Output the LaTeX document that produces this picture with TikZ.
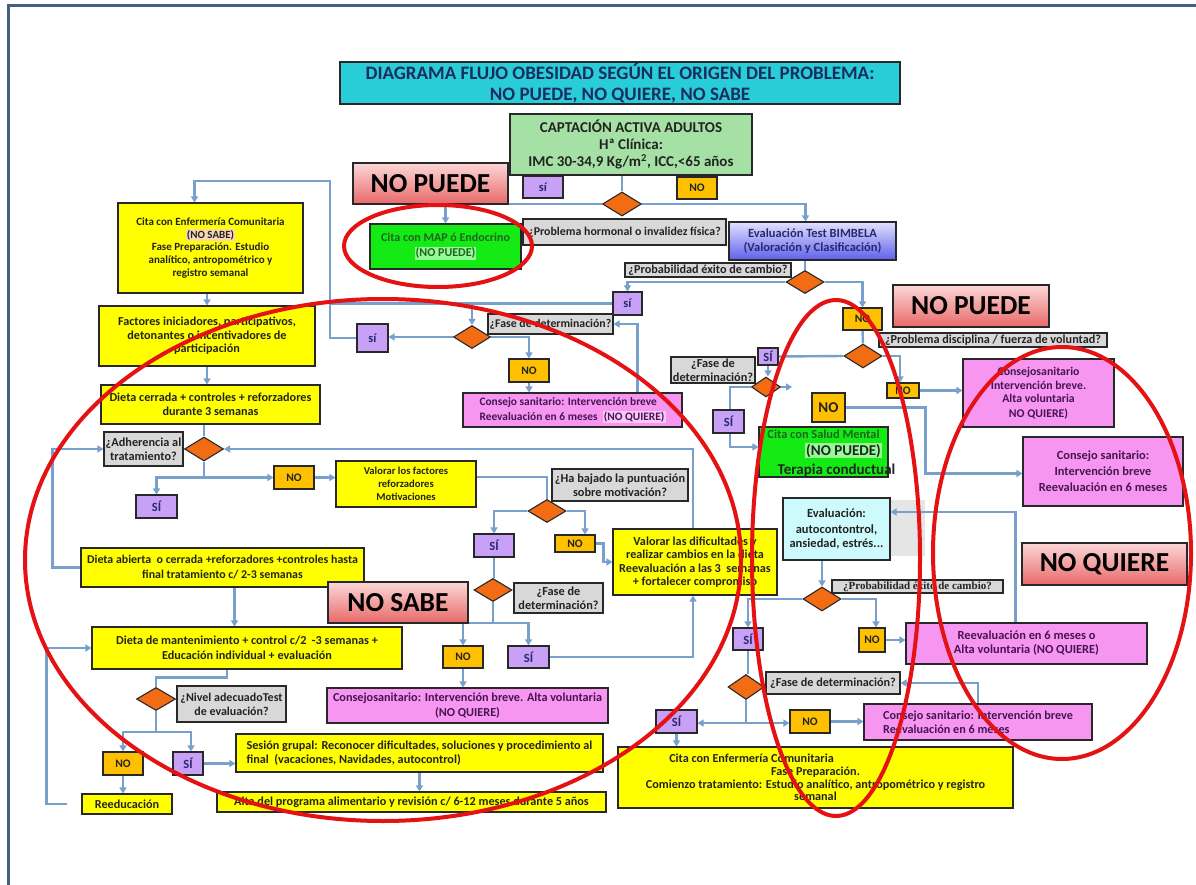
\documentclass[tikz,border=0pt]{standalone}
\usepackage{fontspec}
\setmainfont{Carlito}
\newfontfamily\serifb{Liberation Serif}
\usetikzlibrary{shapes.geometric,arrows.meta}
\definecolor{lnc}{RGB}{120,160,205}
\definecolor{bdc}{RGB}{40,40,40}
\definecolor{txt}{RGB}{35,35,35}
\definecolor{yel}{RGB}{255,255,0}
\definecolor{pnk}{RGB}{246,150,240}
\definecolor{ptxt}{RGB}{70,20,80}
\definecolor{gry}{RGB}{216,216,216}
\definecolor{lav}{RGB}{200,160,245}
\definecolor{navy}{RGB}{40,40,110}
\definecolor{org}{RGB}{255,192,0}
\definecolor{dor}{RGB}{242,108,20}
\definecolor{ttlc}{RGB}{40,205,215}
\definecolor{ttltxt}{RGB}{25,45,95}
\definecolor{capc}{RGB}{165,225,165}
\definecolor{grn}{RGB}{20,235,20}
\definecolor{gtxt}{RGB}{30,100,30}
\definecolor{evc}{RGB}{205,250,252}
\definecolor{redc}{RGB}{228,18,18}
\definecolor{frm}{RGB}{70,95,130}
\definecolor{peach}{RGB}{250,215,180}
\definecolor{lgrn}{RGB}{150,250,150}
\definecolor{lpnk}{RGB}{250,200,250}
\definecolor{bimt}{RGB}{225,225,255}
\definecolor{bimb}{RGB}{95,95,235}
\definecolor{lbt}{RGB}{252,215,215}
\definecolor{lbb}{RGB}{232,105,105}
\setlength{\fboxsep}{1pt}
\pgfdeclarelayer{bgl}
\pgfdeclarelayer{fgl}
\pgfsetlayers{bgl,main,fgl}
\newcommand{\bx}[7]{%
  \pgfmathsetmacro{\bxw}{#5-#3}\pgfmathsetmacro{\bxh}{#6-#4}%
  \pgfmathsetmacro{\bxcx}{(#3+#5)/2}\pgfmathsetmacro{\bxcy}{(#4+#6)/2}%
  \node[#2, minimum width=\bxw pt, minimum height=\bxh pt, inner sep=0pt] (#1) at (\bxcx,\bxcy) {#7};}
\newcommand{\fs}[2]{\bfseries\fontsize{#1}{#2}\selectfont}
\begin{document}
\begin{tikzpicture}[x=1pt,y=-1pt,
 ln/.style={draw=lnc, line width=2.4pt},
 arr/.style={ln, -{Triangle[length=6pt,width=7pt]}},
 bbox/.style={draw=bdc, line width=1.1pt, font=\fs{12.2}{14}, align=center, text=txt},
 ybox/.style={bbox, fill=yel},
 pbox/.style={bbox, fill=pnk, text=ptxt},
 gbox/.style={bbox, fill=gry},
 sibox/.style={bbox, fill=lav, text=navy, font=\fs{12.5}{14}},
 nobox/.style={bbox, fill=org, font=\fs{11.5}{13}},
 dia/.style={diamond, draw=bdc, line width=1.1pt, fill=dor, inner sep=0pt, minimum width=39pt, minimum height=24pt},
 lbl/.style={draw=bdc, line width=1.1pt, top color=lbt, bottom color=lbb, text=black, font=\fs{27.5}{30}},
 ttl/.style={draw=bdc, line width=1.1pt, fill=ttlc, text=ttltxt, align=center, font=\fs{19}{21}},
 capst/.style={draw=bdc, line width=1.1pt, fill=capc, text=txt, align=center, font=\fs{15}{17}},
 mapst/.style={bbox, fill=grn, text=gtxt, font=\fs{12}{15}},
 smst/.style={bbox, fill=grn},
 evst/.style={bbox, fill=evc},
 bimst/.style={bbox, top color=bimt, bottom color=bimb, text=navy, font=\fs{12.5}{14}},
 redell/.style={draw=redc, line width=4pt},
]
\useasboundingbox (0,0) rectangle (1196,885);

% ---------- boxes ----------
\bx{title}{ttl}{340}{62}{900}{104}{DIAGRAMA FLUJO OBESIDAD SEGÚN EL ORIGEN DEL PROBLEMA:\\ NO PUEDE, NO QUIERE, NO SABE}
\bx{cap}{capst}{510}{114}{752}{175}{CAPTACIÓN ACTIVA ADULTOS\\ Hª Clínica:\\ IMC 30-34,9 Kg/m\textsuperscript{2}, ICC,<65 años}
\bx{npl}{lbl}{353}{163}{508}{204}{NO PUEDE}
\bx{si1}{sibox}{523}{176}{563}{198}{sí}
\bx{no1}{nobox}{677}{177}{717}{199}{NO}
\node[dia] (d1) at (622,204) {};
\bx{map}{mapst}{370}{224}{521}{269}{Cita con MAP ó Endocrino\\ \colorbox{lgrn}{(NO PUEDE)}}
\bx{hor}{gbox,font=\fs{11.9}{13}}{523}{219}{726}{245}{¿Problema hormonal o invalidez física?}
\bx{bim}{bimst}{729}{222}{896}{260}{Evaluación Test BIMBELA\\ (Valoración y Clasificación)}
\bx{pr1}{gbox}{625}{263}{791}{277}{¿Probabilidad éxito de cambio?}
\node[dia, minimum width=38pt, minimum height=23pt] (d2) at (805,282) {};
\bx{si2}{sibox}{613}{292}{642}{315}{sí}
\bx{no2}{nobox}{843}{308}{882}{330}{NO}
\bx{npr}{lbl}{893}{285}{1049}{327}{NO PUEDE}
\bx{f3}{gbox,font=\fs{11.8}{13}}{488}{314}{613}{334}{¿Fase de determinación?}
\node[dia, minimum width=37pt, minimum height=23pt] (d3) at (472,337) {};
\bx{si3}{sibox}{357}{324}{388}{352}{sí}
\bx{no3}{nobox}{509}{359}{549}{382}{NO}
\bx{cs1}{pbox,align=left,font=\fs{11.4}{15}}{463}{393}{682}{427}{Consejo sanitario: Intervención breve\\ Reevaluación en 6 meses \ \colorbox{lpnk}{(NO QUIERE)}}

\bx{cita1}{ybox,font=\fs{11}{12.8}}{118}{203}{303}{293}{Cita con Enfermería Comunitaria\\ \colorbox{peach}{(NO SABE)}\\ Fase Preparación. Estudio\\ analítico, antropométrico y\\ registro semanal}
\bx{fact}{ybox,font=\fs{12.2}{13.5}}{99}{306}{315}{366}{Factores iniciadores, participativos,\\ detonantes o incentivadores de\\ participación}
\bx{dc}{ybox}{101}{385}{320}{424}{Dieta cerrada + controles + reforzadores\\ durante 3 semanas}
\node[dia] (d4) at (204,449) {};
\bx{adh}{gbox,font=\fs{12.3}{14}}{104}{432}{183}{466}{¿Adherencia al\\ tratamiento?}
\bx{si4}{sibox}{136}{495}{177}{518}{SÍ}
\bx{no4}{nobox}{274}{466}{314}{489}{NO}
\bx{vf}{ybox,font=\fs{10.6}{13}}{336}{461}{476}{507}{Valorar los factores\\ reforzadores\\ Motivaciones}
\node[dia, minimum width=38pt, minimum height=23pt] (d5) at (547,511) {};
\bx{hb}{gbox,font=\fs{12.3}{14}}{552}{469}{688}{501}{¿Ha bajado la puntuación\\ sobre motivación?}
\bx{si5}{sibox}{474}{534}{514}{557}{SÍ}
\bx{no5}{nobox}{555}{535}{595}{552}{NO}
\bx{vd}{ybox,font=\fs{12.2}{13.4}}{613}{529}{777}{595}{Valorar las dificultades y\\ realizar cambios en la dieta\\ Reevaluación a las 3 \ semanas\\ + fortalecer compromiso}
\bx{da}{ybox,font=\fs{11.9}{15}}{81}{548}{364}{587}{Dieta abierta \ o cerrada +reforzadores +controles hasta\\ final tratamiento c/ 2-3 semanas}
\bx{nsb}{lbl}{328}{582}{468}{623}{NO SABE}
\node[dia, minimum width=38pt, minimum height=23pt] (d6) at (493,590) {};
\bx{f6}{gbox,font=\fs{12.3}{14}}{514}{583}{603}{613}{¿Fase de\\ determinación?}
\bx{no6}{nobox}{443}{646}{483}{668}{NO}
\bx{si6}{sibox}{508}{646}{549}{668}{SÍ}
\bx{cs2}{pbox,font=\fs{12.2}{15}}{327}{688}{608}{723}{Consejosanitario: Intervención breve. Alta voluntaria\\ (NO QUIERE)}
\bx{dm}{ybox,font=\fs{12.2}{15}}{92}{627}{402}{669}{Dieta de mantenimiento + control c/2 \ -3 semanas +\\ Educación individual + evaluación}
\node[dia, minimum width=39pt, minimum height=23pt] (d7) at (156,699) {};
\bx{niv}{gbox,font=\fs{12}{14}}{177}{686}{286}{722}{¿Nivel adecuadoTest\\ de evaluación?}
\bx{no7}{nobox}{103}{752}{143}{775}{NO}
\bx{si7}{sibox}{173}{752}{203}{775}{SÍ}
\bx{re}{ybox}{82}{794}{172}{814}{Reeducación}
\bx{sg}{ybox,align=left}{236}{734}{603}{772}{Sesión grupal: Reconocer dificultades, soluciones y procedimiento al\\ final \ (vacaciones, Navidades, autocontrol)}
\bx{alta}{ybox}{217}{792}{606}{812}{Alta del programa alimentario y revisión c/ 6-12 meses durante 5 años}

\node[dia, minimum width=38pt, minimum height=24pt] (d8) at (863,356) {};
\bx{disc}{gbox,font=\fs{12.2}{13}}{879}{333}{1107}{347}{¿Problema disciplina / fuerza de voluntad?}
\bx{si8}{sibox}{758}{348}{778}{365}{SÍ}
\node[dia, minimum width=29pt, minimum height=20pt] (d9) at (766,387) {};
\bx{f9}{gbox,font=\fs{12.3}{14}}{671}{357}{755}{383}{¿Fase de\\ determinación?}
\bx{si9}{sibox}{713}{410}{744}{433}{SÍ}
\bx{no9}{nobox,font=\fs{15}{16}}{812}{393}{845}{422}{NO}
\bx{sm}{smst}{759}{427}{888}{477}{}
\node[anchor=base, font=\fs{12.4}{13}, text=gtxt, inner sep=0pt] (sm1) at (823.5,438) {Cita con Salud Mental};
\node[anchor=base, font=\fs{15}{16}, text=txt, inner sep=0pt] (sm2) at (843.5,455) {\colorbox{lgrn}{(NO PUEDE)}};
\node[anchor=base, font=\fs{15}{16}, text=txt, inner sep=0pt] (sm3) at (836.5,474) {Terapia conductual};
\bx{no8}{nobox}{887}{383}{919}{398}{NO}
\bx{csr1}{pbox,font=\fs{11.8}{13}}{963}{359}{1114}{427}{Consejosanitario\\[1.5pt] Intervención breve.\\ Alta voluntaria\\[1.5pt] NO QUIERE)}
\bx{csr2}{pbox,font=\fs{12.4}{14}}{1023}{437}{1183}{506}{Consejo sanitario:\\[2pt] Intervención breve\\[2pt] Reevaluación en 6 meses}
\bx{ev}{evst,font=\fs{12.5}{14}}{783}{498}{890}{560}{Evaluación:\\[2pt] autocontontrol,\\ ansiedad, estrés...}
\bx{nqu}{lbl}{1022}{543}{1187}{585}{NO QUIERE}
\node[dia, minimum width=38pt, minimum height=24pt] (d10) at (822,599) {};
\bx{pr2}{gbox,font=\serifb\bfseries\fontsize{11}{12}\selectfont}{832}{580}{1003}{593}{¿Probabilidad éxito de cambio?}
\bx{no10}{nobox}{859}{628}{885}{652}{NO}
\bx{ra}{pbox,font=\fs{12.4}{14}}{906}{623}{1147}{664}{Reevaluación en 6 meses o\\ Alta voluntaria (NO QUIERE)}
\bx{si10}{sibox}{733}{628}{763}{650}{SÍ}
\node[dia, minimum width=36pt, minimum height=25pt] (d11) at (746,687) {};
\bx{f11}{gbox}{766}{672}{900}{694}{¿Fase de determinación?}
\bx{si11}{sibox}{656}{710}{697}{733}{SÍ}
\bx{no11}{nobox}{790}{710}{830}{733}{NO}
\bx{csb}{pbox,align=left}{864}{704}{1092}{740}{Consejo sanitario: Intervención breve\\ Reevaluación en 6 meses}
\bx{ceb}{ybox,font=\fs{12.2}{12.8}}{618}{747}{1013}{808}{Cita con Enfermería Comunitaria\hspace*{128pt}\\ Fase Preparación.\\ Comienzo tratamiento: Estudio analítico, antropométrico y registro\\ semanal}
\coordinate (d9e) at (792,387);

% ---------- connectors ----------
\begin{pgfonlayer}{bgl}
\fill[white] (0,0) rectangle (1196,885);
\fill[black!10] (890,500) rectangle (925,556);
\draw[frm, line width=3pt] (8,890) -- (8,5.5) -- (1200,5.5);
\draw[ln] (cap.south -| d1.north) -- (d1.north);
\draw[arr] (d1.west) -| (map.north);
\draw[arr] (d1.east) -| ([xshift=-7pt]bim.north);
\draw[ln] (bim.south -| d2.north) -- (d2.north);
\draw[arr] (d2.east) -| (no2.north);
\draw[arr] (d2.west) -| (si2.north);
\draw[arr] (si2.west) -| (d3.north);
\draw[ln] (d3.north |- si2.west) -- (330,303.5);
\draw[arr] (d3.west) -- (d3.west -| si3.east);
\draw[arr] (si3.west) -| (330,181) -| ([xshift=-16pt]cita1.north);
\draw[arr] (d3.east) -| (no3.north);
\draw[arr] (no3.south) -- (no3.south |- cs1.north);
\draw[arr] ([xshift=65pt]cs1.north) |- (f3.east);
\draw[arr] (fact.north |- cita1.south) -- (fact.north);
\draw[arr] (fact.south) -- (fact.south |- dc.north);
\draw[ln] (d4.north |- dc.south) -- (d4.north);
\draw[arr] (d4.south) |- (no4.west);
\draw[arr] (d4.south |- no4.west) -| (si4.north);
\draw[arr] (no4.east) -- (no4.east -| vf.west);
\draw[ln] ([yshift=7pt]vf.east) -| (d5.north);
\draw[arr] (d5.west) -| (si5.north);
\draw[arr] (d5.east) -| ([xshift=10pt]no5.north);
\draw[arr] (no5.east) -- ++(8,0) |- (vd.west);
\draw[arr] ([xshift=-2pt]vd.north) |- (d4.east);
\draw[ln] (si5.south) -- (si5.south |- d6.north);
\draw[arr] (d6.south) -- ++(0,21) -| (no6.north);
\draw[arr] ([yshift=-21pt]d6.south) -| (si6.north);
\draw[arr] (si6.east) -| ([xshift=-2pt]vd.south);
\draw[arr] (no6.south) -- (no6.south |- cs2.north);
\draw[arr] (da.west) -- ++(-28,0) |- (adh.west);
\draw[arr] ([xshift=12pt]da.south) -- ([xshift=12pt]da.south |- dm.north);
\draw[ln] ([xshift=-20pt]dm.south) -- ++(0,8) -| (d7.north);
\draw[arr] (d7.south) -- ++(0,21) -| (no7.north);
\draw[arr] ([yshift=-21pt]d7.south) -| ([xshift=3pt]si7.north);
\draw[arr] (no7.south) -- (no7.south |- re.north);
\draw[arr] ([xshift=-14pt]re.west) -- ++(-21,0) |- (dm.west);
\draw[arr] (si7.east) -- (si7.east -| sg.west);
\draw[arr] (sg.south) -- (sg.south |- alta.north);
\draw[ln] (no2.south) -- (d8.north);
\draw[ln] (si8.east) -- (d8.west);
\draw[arr] (d8.east) -| ([xshift=-3pt]no8.north);
\draw[arr] (si8.south) -- (si8.south |- d9.north);
\draw[arr] (d9.east) -- (d9e);
\draw[arr] (d9.west) -- ++(-21,0) |- ([yshift=5pt]sm.west);
\draw[arr] (no9.east) -- ++(80,0) |- ([yshift=-2pt]csr2.west);
\draw[arr] (no8.east) -- (no8.east -| csr1.west);
\draw[arr] ([xshift=-11pt]ra.north) |- ([yshift=17pt]ev.east);
\draw[arr] (d10.north |- ev.south) -- (d10.north);
\draw[arr] (d10.east) -| ([xshift=4pt]no10.north);
\draw[arr] (no10.east) -- (no10.east -| ra.west);
\draw[arr] (d10.west) -| (si10.north);
\draw[ln] (si10.south) -- (si10.south |- d11.north);
\draw[ln] (d11.south) -- ++(0,23);
\draw[arr] ([yshift=-23pt]d11.south) -- ([yshift=-23pt]d11.south -| si11.east);
\draw[arr] ([yshift=-23pt]d11.south) -- ([yshift=-23pt]d11.south -| no11.west);
\draw[arr] (no11.east) -- (no11.east -| csb.west);
\draw[arr] (csb.north) |- (f11.east);
\draw[arr] (si11.south) -- (si11.south |- ceb.north);
\end{pgfonlayer}

% ---------- red annotation ellipses ----------
\begin{pgfonlayer}{fgl}
\draw[redell] (438,246) ellipse [x radius=94pt, y radius=41pt];
\draw[redell] (383,560) ellipse [x radius=358pt, y radius=261pt];
\draw[redell] (836,558) ellipse [x radius=84pt, y radius=258pt];
\draw[redell] (1062,553) ellipse [x radius=129pt, y radius=206pt];
\end{pgfonlayer}
\end{tikzpicture}
\end{document}
